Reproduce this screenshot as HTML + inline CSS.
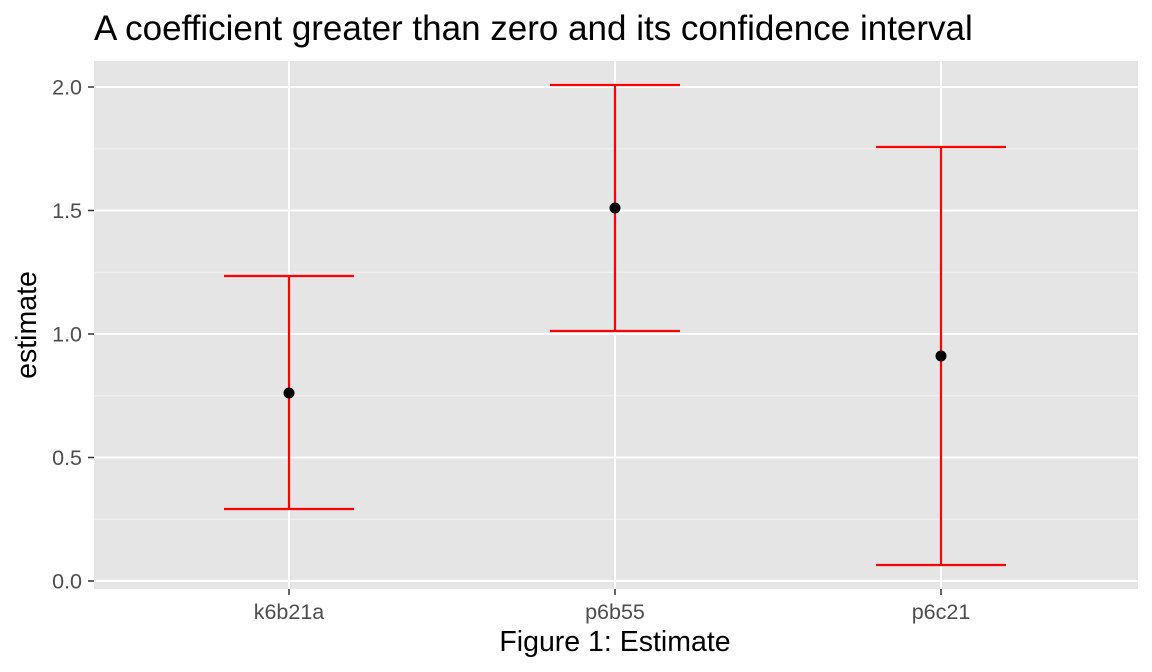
<!DOCTYPE html>
<html><head><meta charset="utf-8"><style>body{margin:0;background:#fff}svg{display:block}</style></head>
<body>
<svg width="1152" height="672" xmlns="http://www.w3.org/2000/svg" font-family="Liberation Sans, sans-serif">
<rect width="1152" height="672" fill="#fff"/>
<text x="94" y="40" font-size="35" fill="#000">A coefficient greater than zero and its confidence interval</text>
<rect x="94" y="61" width="1044" height="528" fill="#e5e5e5"/>
<g stroke="#f2f2f2" stroke-width="1">
<line x1="94" x2="1138" y1="148.75" y2="148.75"/><line x1="94" x2="1138" y1="272.25" y2="272.25"/>
<line x1="94" x2="1138" y1="395.75" y2="395.75"/><line x1="94" x2="1138" y1="519.25" y2="519.25"/>
</g>
<g stroke="#fff" stroke-width="2">
<line x1="94" x2="1138" y1="87" y2="87"/><line x1="94" x2="1138" y1="210.5" y2="210.5"/>
<line x1="94" x2="1138" y1="334" y2="334"/><line x1="94" x2="1138" y1="457.5" y2="457.5"/>
<line x1="94" x2="1138" y1="581" y2="581"/>
<line x1="289" x2="289" y1="61" y2="589"/><line x1="615" x2="615" y1="61" y2="589"/><line x1="941" x2="941" y1="61" y2="589"/>
</g>
<g stroke="#ff0000" stroke-width="2.2" fill="none">
<path d="M224 276H354M289 276V509M224 509H354"/>
<path d="M550 85H680M615 85V331M550 331H680"/>
<path d="M876 147H1006M941 147V565M876 565H1006"/>
</g>
<g fill="#000"><circle cx="289" cy="393" r="5.5"/><circle cx="615" cy="208" r="5.5"/><circle cx="941" cy="356" r="5.5"/></g>
<g stroke="#333" stroke-width="1.5">
<line x1="88" x2="94" y1="87" y2="87"/><line x1="88" x2="94" y1="210.5" y2="210.5"/><line x1="88" x2="94" y1="334" y2="334"/>
<line x1="88" x2="94" y1="457.5" y2="457.5"/><line x1="88" x2="94" y1="581" y2="581"/>
<line x1="289" x2="289" y1="589" y2="595"/><line x1="615" x2="615" y1="589" y2="595"/><line x1="941" x2="941" y1="589" y2="595"/>
</g>
<g font-size="21.5" fill="#4d4d4d" text-anchor="end">
<text x="82" y="94.5">2.0</text><text x="82" y="218">1.5</text><text x="82" y="341.5">1.0</text><text x="82" y="465">0.5</text><text x="82" y="588.5">0.0</text>
</g>
<g font-size="21.5" fill="#4d4d4d" text-anchor="middle">
<text x="289" y="619">k6b21a</text><text x="615" y="619">p6b55</text><text x="941" y="619">p6c21</text>
</g>
<text x="615" y="651" font-size="28.5" text-anchor="middle" fill="#000">Figure 1: Estimate</text>
<text transform="translate(36,325) rotate(-90)" font-size="28.5" text-anchor="middle" fill="#000">estimate</text>
</svg>
</body></html>
